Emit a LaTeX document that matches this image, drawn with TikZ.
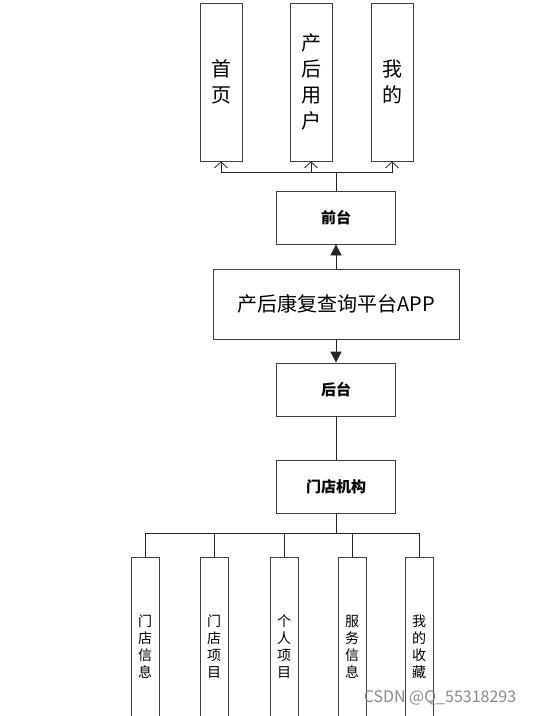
\documentclass[tikz,border=0pt]{standalone}
\usepackage{fontspec}
\setmainfont{Noto Sans CJK SC}
\usetikzlibrary{arrows.meta}

\tikzset{
  box/.style={draw=black!75, line width=0.8pt, fill=white, inner sep=0pt, align=center},
  tallbox/.style={box, minimum width=42, minimum height=158, font=\fontsize{20}{26}\selectfont},
  midbox/.style={box, minimum width=119, minimum height=53, font=\fontsize{15}{15}\selectfont\bfseries},
  leafbox/.style={box, minimum width=28, minimum height=180, font=\fontsize{14}{17}\selectfont},
  link/.style={draw=black!85, line width=0.8pt},
}

\begin{document}
\begin{tikzpicture}[x=1pt,y=-1pt]

	\useasboundingbox (0,0) rectangle (533,716);
	\clip (0,0) rectangle (533,716);
	\fill[white] (0,0) rectangle (533,716);

	% front end pages
	\node[tallbox] (home) at (221,82) {首\\页};
	\node[tallbox] (user) at (311,82) {产\\后\\用\\户};
	\node[tallbox] (mine) at (392,82) {我\\的};

	\node[midbox] (front) at (336,217.5) {前台};

	\node[box, minimum width=246, minimum height=70, font=\fontsize{20}{20}\selectfont] (app) at (336,304) {产后康复查询平台APP};

	\node[midbox] (back) at (336,389.5) {后台};
	\node[midbox] (shop) at (336,487) {门店机构};

	% store pages
	\node[leafbox] (info) at (145,647) {门\\店\\信\\息};
	\node[leafbox] (item) at (214,647) {门\\店\\项\\目};
	\node[leafbox] (own)  at (284,647) {个\\人\\项\\目};
	\node[leafbox] (serv) at (352,647) {服\\务\\信\\息};
	\node[leafbox] (fav)  at (419,647) {我\\的\\收\\藏};

	% connectors
	\coordinate (topbus) at (336,172);
	\coordinate (botbus) at (336,533);

	\draw[link] (front.north) -- (topbus);
	\foreach \n in {home,user,mine}
		\draw[link, -{Straight Barb[length=6pt,width=13pt]}] (topbus) -| (\n.south);

	\draw[link, -{Triangle[length=11pt,width=11pt]}] (app.north) -- (front.south);
	\draw[link, -{Triangle[length=11pt,width=11pt]}] (app.south) -- (back.north);
	\draw[link] (back.south) -- (shop.north);

	\draw[link] (shop.south) -- (botbus);
	\foreach \n in {info,item,own,serv,fav}
		\draw[link] (botbus) -| (\n.north);

	\node[text=black!45, font=\fontsize{16}{16}\selectfont] (mark) at (440,698) {CSDN @Q\_55318293};

\end{tikzpicture}
\end{document}
